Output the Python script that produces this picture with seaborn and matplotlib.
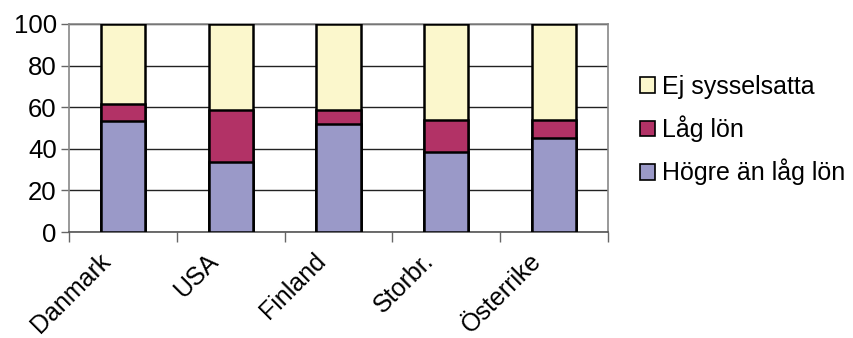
import numpy as np
import pandas as pd
import matplotlib
matplotlib.use("Agg")
import matplotlib.pyplot as plt
import matplotlib.transforms as mtransforms
from matplotlib.patches import Patch
import seaborn as sns

# Data (percent)
countries = ["Danmark", "USA", "Finland", "Storbr.", "Österrike"]
hogre = [53.5, 33.5, 51.8, 38.3, 45.0]
lag = [8.0, 25.0, 6.7, 15.5, 8.8]
ej = [38.5, 41.5, 41.5, 46.2, 46.2]

series_names = ["Högre än låg lön", "Låg lön", "Ej sysselsatta"]
colors = {"Högre än låg lön": "#9A99C8", "Låg lön": "#B23266", "Ej sysselsatta": "#FBF7CC"}

sns.set_style("white")
plt.rcParams["font.family"] = ["Liberation Sans", "DejaVu Sans"]
plt.rcParams["text.color"] = "black"
plt.rcParams["xtick.labelcolor"] = "black"
plt.rcParams["ytick.labelcolor"] = "black"

df = pd.DataFrame({"land": countries, "Högre än låg lön": hogre,
                   "Låg lön": lag, "Ej sysselsatta": ej})
# cumulative sums for stacking
df["cum_hogre"] = df["Högre än låg lön"]
df["cum_lag"] = df["cum_hogre"] + df["Låg lön"]
df["cum_ej"] = df["cum_lag"] + df["Ej sysselsatta"]

fig = plt.figure(figsize=(8.54, 3.38), dpi=100)
ax = fig.add_axes([0.0811, 0.3136, 0.6305, 0.6154])

# draw from the top segment down so each lower one overlays
for col, name in [("cum_ej", "Ej sysselsatta"), ("cum_lag", "Låg lön"), ("cum_hogre", "Högre än låg lön")]:
    sns.barplot(data=df, x="land", y=col, color=colors[name], width=0.41, saturation=1,
                edgecolor="black", linewidth=1.8, ax=ax, zorder=3)

ax.set_ylim(0, 100)
ax.set_xlim(-0.5, 4.5)
ax.set_xlabel("")
ax.set_ylabel("")
ax.set_yticks([0, 20, 40, 60, 80, 100])
ax.yaxis.grid(True, color="#222222", linewidth=1.0, zorder=0)
ax.set_axisbelow(True)

for side in ["top", "right", "left"]:
    ax.spines[side].set_color("#888888")
    ax.spines[side].set_linewidth(1.2)
ax.spines["bottom"].set_color("#555555")
ax.spines["bottom"].set_linewidth(1.2)

ax.tick_params(axis="y", which="major", left=True, length=6, width=1, color="#666666",
               labelsize=18.5, pad=3, labelcolor="black")
ax.set_xticks(np.arange(-0.5, 5.0, 1.0), minor=True)
ax.tick_params(axis="x", which="minor", bottom=True, length=7, width=1, color="#666666")
ax.tick_params(axis="x", which="major", bottom=False, length=0, labelsize=18, labelcolor="black")

offset = mtransforms.ScaledTranslation(-25 / 100, -12 / 100, fig.dpi_scale_trans)
for lbl in ax.get_xticklabels():
    lbl.set_rotation(45)
    lbl.set_ha("right")
    lbl.set_va("top")
    lbl.set_rotation_mode("anchor")
    lbl.set_transform(lbl.get_transform() + offset)

handles = [Patch(facecolor=colors[n], edgecolor="black", linewidth=1.2, label=n)
           for n in reversed(series_names)]
fig.legend(handles=handles, loc="upper left", bbox_to_anchor=(0.7288, 0.8296),
           frameon=False, fontsize=18, handlelength=0.6, handleheight=0.6,
           handletextpad=0.3, labelspacing=0.66, borderpad=0.2, labelcolor="black")

fig.savefig("out.png", dpi=100)
